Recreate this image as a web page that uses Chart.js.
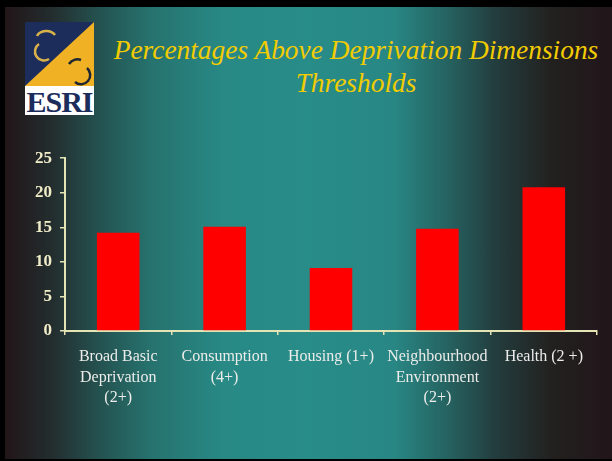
<!DOCTYPE html>
<html>
<head>
<meta charset="utf-8">
<script src="https://cdn.jsdelivr.net/npm/chart.js@4/dist/chart.umd.min.js"></script>
<style>
    html, body { margin: 0; padding: 0; }
    body { width: 612px; height: 461px; background: #000; position: relative; overflow: hidden; }
    .slide {
        position: absolute; left: 5px; top: 7px; width: 607px; height: 452px;
        background: linear-gradient(to right, #221518 0%, #232e2f 8%, #24504e 15%, #26726e 24%, #288985 36%, #288c89 50%, #288784 64%, #256260 73%, #233c3d 81%, #22211f 90%, #21151a 100%);
    }
    .logo { position: absolute; left: 25px; top: 22px; width: 69px; height: 93px; }
    .logo .esri {
        position: absolute; left: 0; top: 64px; width: 69px; height: 29px; background: #fff;
        font-family: 'Liberation Serif', serif; font-weight: bold; font-size: 30px;
        color: #1c2d5c; text-align: center; line-height: 31px; letter-spacing: -1px;
    }
    .title {
        position: absolute; left: 100px; top: 34px; width: 512px; text-align: center;
        font-family: 'Liberation Serif', serif; font-style: italic; font-size: 27.4px;
        line-height: 33px; color: #f2cc00;
    }
    .chart-box { position: absolute; left: 0; top: 140px; width: 612px; height: 300px; }
</style>
</head>
<body>
<div class="slide"></div>
<div class="logo">
    <svg width="69" height="64" viewBox="0 0 69 64">
        <rect width="69" height="64" fill="#f0b224"/>
        <polygon points="0,0 69,0 0,64" fill="#1c2d5c"/>
        <path d="M 12 14 A 10 8 0 0 1 30 13" fill="none" stroke="#d9b24a" stroke-width="2.5"/>
        <path d="M 14 22 A 9 9 0 0 0 24 37" fill="none" stroke="#d9b24a" stroke-width="2.5"/>
        <path d="M 44 42 A 10 10 0 0 1 56 38" fill="none" stroke="#1e2633" stroke-width="2.5"/>
        <path d="M 62 46 A 9 9 0 0 1 50 60" fill="none" stroke="#1e2633" stroke-width="2.5"/>
    </svg>
    <div class="esri">ESRI</div>
</div>
<div class="title">Percentages Above Deprivation Dimensions<br>Thresholds</div>
<div class="chart-box"><canvas id="myChart"></canvas></div>
<script>
var categories = [
    ['Broad Basic', 'Deprivation', '(2+)'],
    ['Consumption', '(4+)'],
    ['Housing (1+)'],
    ['Neighbourhood', 'Environment', '(2+)'],
    ['Health (2 +)']
];
var percentages = [14.2, 15.1, 9.1, 14.8, 20.8];
var yTicks = [0, 5, 10, 15, 20, 25];

var axisColor = '#e4e4b4';

new Chart(document.getElementById('myChart'), {
    type: 'bar',
    data: {
        labels: categories,
        datasets: [{
            data: percentages,
            backgroundColor: '#ff0000',
            borderWidth: 0,
            categoryPercentage: 1,
            barPercentage: 0.4
        }]
    },
    options: {
        responsive: true,
        maintainAspectRatio: false,
        animation: false,
        layout: { padding: { top: 16, right: 15, left: 0, bottom: 0 } },
        plugins: { legend: { display: false }, tooltip: { enabled: false } },
        scales: {
            x: {
                grid: { drawOnChartArea: false, color: axisColor, tickLength: 4, lineWidth: 1.5 },
                border: { color: axisColor, width: 2 },
                ticks: {
                    color: '#ececea',
                    padding: 12,
                    maxRotation: 0,
                    autoSkip: false,
                    font: { family: "'Liberation Serif', serif", size: 16, lineHeight: 1.28 }
                },
                afterFit: function(scale) { scale.height = 109; }
            },
            y: {
                min: 0,
                max: 25,
                grid: { drawOnChartArea: false, color: axisColor, tickLength: 5, lineWidth: 1.5 },
                border: { color: axisColor, width: 2 },
                afterBuildTicks: function(scale) {
                    scale.ticks = yTicks.map(function(v) { return { value: v }; });
                },
                ticks: {
                    color: '#f0ecc8',
                    padding: 8,
                    font: { family: "'Liberation Serif', serif", size: 17, weight: 'bold' }
                },
                afterFit: function(scale) { scale.width = 65; }
            }
        }
    }
});
</script>
</body>
</html>
